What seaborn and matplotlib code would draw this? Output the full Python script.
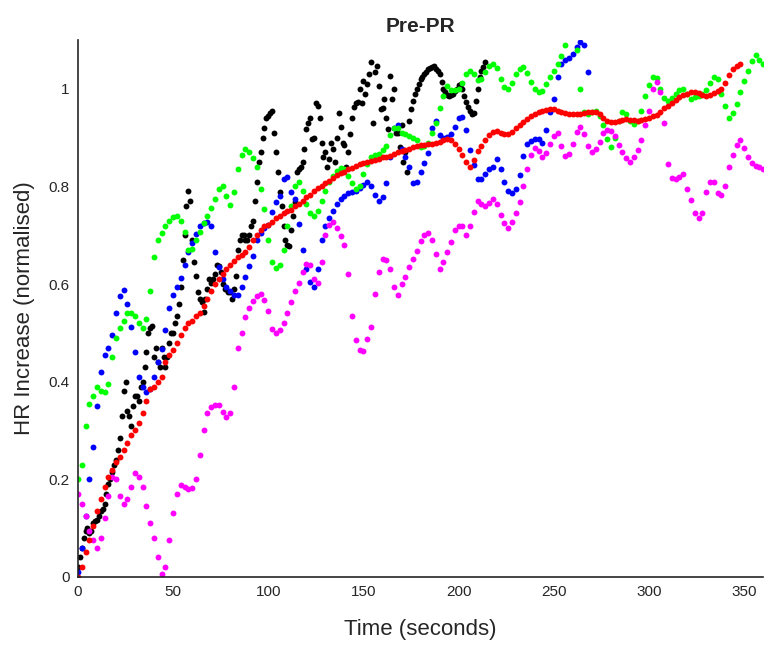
import numpy as np
import pandas as pd
import matplotlib
matplotlib.use("Agg")
import matplotlib.pyplot as plt
import seaborn as sns

# sample spacing (seconds) used for every trace
step = 2

red_vals = [0.0, 0.02, 0.05, 0.076, 0.105, 0.135, 0.16, 0.185, 0.205, 0.22,
            0.235, 0.246, 0.26, 0.275, 0.29, 0.30, 0.315, 0.335, 0.36, 0.385,
            0.39, 0.40, 0.41, 0.44, 0.455, 0.465, 0.48, 0.495, 0.51, 0.52,
            0.525, 0.535, 0.54, 0.555, 0.57, 0.585, 0.60, 0.61, 0.62, 0.63,
            0.64, 0.648, 0.655, 0.66, 0.665, 0.675, 0.69, 0.70, 0.71, 0.718,
            0.722, 0.728, 0.735, 0.74, 0.745, 0.75, 0.752, 0.76, 0.765, 0.77,
            0.778, 0.782, 0.79, 0.797, 0.80, 0.808, 0.812, 0.818, 0.823, 0.828,
            0.83, 0.835, 0.838, 0.842, 0.845, 0.848, 0.85, 0.852, 0.855, 0.857,
            0.86, 0.86, 0.863, 0.866, 0.87, 0.872, 0.875, 0.877, 0.88, 0.882,
            0.885, 0.885, 0.886, 0.888, 0.89, 0.892, 0.895, 0.897, 0.895, 0.888,
            0.877, 0.864, 0.85, 0.84, 0.855, 0.872, 0.883, 0.895, 0.905, 0.912,
            0.914, 0.91, 0.907, 0.907, 0.912, 0.92, 0.926, 0.932, 0.938, 0.944,
            0.949, 0.952, 0.955, 0.957, 0.959, 0.958, 0.955, 0.952, 0.95, 0.949,
            0.948, 0.948, 0.949, 0.95, 0.952, 0.953, 0.953, 0.948, 0.94, 0.934,
            0.932, 0.933, 0.935, 0.937, 0.938, 0.937, 0.936, 0.935, 0.936, 0.938,
            0.941, 0.944, 0.947, 0.953, 0.96, 0.965, 0.971, 0.978, 0.984, 0.988,
            0.99, 0.993, 0.994, 0.991, 0.988, 0.986, 0.988, 0.992, 0.996, 1.0,
            1.012, 1.028, 1.04, 1.047, 1.05]

green_vals = [0.2, 0.23, 0.31, 0.355, 0.37, 0.39, 0.38, 0.378, 0.395, 0.45,
              0.49, 0.51, 0.525, 0.54, 0.54, 0.534, 0.52, 0.51, 0.528, 0.585,
              0.655, 0.69, 0.705, 0.72, 0.73, 0.738, 0.74, 0.73, 0.706, 0.67,
              0.672, 0.69, 0.706, 0.725, 0.74, 0.755, 0.775, 0.795, 0.80, 0.78,
              0.762, 0.788, 0.836, 0.865, 0.877, 0.87, 0.858, 0.84, 0.795, 0.753,
              0.69, 0.645, 0.632, 0.64, 0.67, 0.72, 0.76, 0.80, 0.81, 0.79,
              0.765, 0.745, 0.74, 0.75, 0.77, 0.79, 0.81, 0.822, 0.832, 0.838,
              0.835, 0.822, 0.808, 0.795, 0.80, 0.825, 0.845, 0.86, 0.864, 0.866,
              0.874, 0.883, 0.905, 0.92, 0.92, 0.91, 0.907, 0.904, 0.90, 0.895,
              0.88, 0.882, 0.89, 0.91, 0.93, 0.96, 0.985, 1.006, 0.998, 0.997,
              1.0, 1.012, 1.03, 1.036, 1.03, 1.018, 1.02, 1.035, 1.047, 1.05,
              1.042, 1.02, 1.004, 1.0, 1.012, 1.03, 1.04, 1.045, 1.033, 1.014,
              1.0, 0.994, 0.995, 1.01, 1.025, 1.037, 1.05, 1.068, 1.09, 1.115,
              1.125, 1.08, 1.0, 0.952, 0.948, 0.953, 0.955, 0.945, 0.925, 0.898,
              0.88, 0.90, 0.935, 0.953, 0.949, 0.935, 0.928, 0.935, 0.955, 0.986,
              1.008, 1.025, 1.022, 1.0, 0.982, 0.975, 0.982, 0.99, 0.998, 1.0,
              0.99, 0.98, 0.983, 0.986, 0.99, 0.998, 1.012, 1.024, 1.02, 0.99,
              0.965, 0.94, 0.95, 0.968, 0.994, 1.016, 1.037, 1.058, 1.07, 1.06,
              1.05]

blue_vals = [0.01, 0.06, 0.125, 0.2, 0.267, 0.35, 0.42, 0.455, 0.468, 0.495,
             0.54, 0.575, 0.587, 0.56, 0.513, 0.46, 0.41, 0.39, 0.378, 0.385,
             0.41, 0.44, 0.466, 0.505, 0.55, 0.578, 0.595, 0.612, 0.64, 0.665,
             0.685, 0.703, 0.72, 0.726, 0.727, 0.72, 0.665, 0.635, 0.61, 0.594,
             0.585, 0.578, 0.578, 0.594, 0.615, 0.637, 0.657, 0.69, 0.705, 0.714,
             0.722, 0.747, 0.768, 0.78, 0.815, 0.82, 0.788, 0.775, 0.723, 0.67,
             0.63, 0.605, 0.595, 0.63, 0.69, 0.718, 0.735, 0.75, 0.765, 0.774,
             0.78, 0.787, 0.789, 0.79, 0.797, 0.803, 0.81, 0.80, 0.782, 0.77,
             0.778, 0.808, 0.86, 0.92, 0.925, 0.877, 0.86, 0.84, 0.808, 0.81,
             0.83, 0.848, 0.868, 0.92, 0.935, 0.905, 0.90, 0.902, 0.908, 0.922,
             0.94, 0.942, 0.915, 0.875, 0.843, 0.815, 0.815, 0.826, 0.836, 0.84,
             0.856, 0.836, 0.81, 0.79, 0.786, 0.795, 0.823, 0.862, 0.888, 0.893,
             0.898, 0.897, 0.89, 0.915, 0.953, 0.98, 1.025, 1.05, 1.06, 1.063,
             1.072, 1.085, 1.096, 1.09, 1.035]

magenta_vals = [0.17, 0.15, 0.125, 0.095, 0.076, 0.06, 0.08, 0.12, 0.165, 0.205,
                0.2, 0.165, 0.15, 0.16, 0.185, 0.213, 0.205, 0.185, 0.145, 0.11,
                0.08, 0.04, 0.006, 0.02, 0.076, 0.13, 0.17, 0.188, 0.185, 0.18,
                0.182, 0.2, 0.25, 0.30, 0.335, 0.348, 0.352, 0.353, 0.338, 0.328,
                0.335, 0.39, 0.47, 0.50, 0.532, 0.55, 0.565, 0.575, 0.58, 0.568,
                0.545, 0.507, 0.50, 0.505, 0.52, 0.54, 0.563, 0.585, 0.603, 0.624,
                0.642, 0.64, 0.61, 0.603, 0.645, 0.70, 0.722, 0.728, 0.714, 0.698,
                0.68, 0.62, 0.534, 0.485, 0.465, 0.462, 0.487, 0.513, 0.58, 0.625,
                0.652, 0.65, 0.63, 0.595, 0.578, 0.60, 0.615, 0.635, 0.652, 0.668,
                0.688, 0.70, 0.705, 0.69, 0.662, 0.63, 0.645, 0.665, 0.686, 0.71,
                0.718, 0.718, 0.70, 0.72, 0.748, 0.77, 0.765, 0.76, 0.766, 0.775,
                0.765, 0.742, 0.725, 0.715, 0.727, 0.745, 0.768, 0.80, 0.835, 0.865,
                0.878, 0.873, 0.86, 0.868, 0.887, 0.904, 0.91, 0.883, 0.862, 0.866,
                0.888, 0.912, 0.922, 0.908, 0.883, 0.87, 0.877, 0.892, 0.91, 0.915,
                0.914, 0.903, 0.885, 0.87, 0.858, 0.85, 0.86, 0.875, 0.895, 0.925,
                0.955, 1.0, 1.014, 0.994, 0.93, 0.845, 0.818, 0.815, 0.82, 0.825,
                0.795, 0.772, 0.745, 0.735, 0.745, 0.788, 0.81, 0.81, 0.787, 0.782,
                0.80, 0.84, 0.865, 0.885, 0.895, 0.878, 0.86, 0.848, 0.842, 0.84,
                0.836]

# black trace is noisier, so it is read at every second (even + odd seconds)
black_even_vals = [0.02, 0.06, 0.095, 0.09, 0.11, 0.117, 0.135, 0.15, 0.19, 0.215,
                   0.24, 0.285, 0.38, 0.34, 0.31, 0.37, 0.36, 0.40, 0.46, 0.51,
                   0.45, 0.44, 0.47, 0.43, 0.48, 0.50, 0.535, 0.595, 0.70, 0.79,
                   0.69, 0.616, 0.57, 0.542, 0.59, 0.603, 0.62, 0.637, 0.60, 0.59,
                   0.583, 0.59, 0.67, 0.70, 0.69, 0.70, 0.73, 0.81, 0.87, 0.92,
                   0.945, 0.955, 0.87, 0.788, 0.72, 0.68, 0.71, 0.768, 0.835, 0.85,
                   0.918, 0.94, 0.90, 0.965, 0.89, 0.87, 0.856, 0.877, 0.90, 0.922,
                   0.885, 0.87, 0.94, 0.97, 1.0, 1.016, 1.01, 1.055, 1.035, 1.006,
                   0.96, 0.94, 1.027, 1.0, 0.91, 0.925, 0.87, 0.934, 0.975, 1.0,
                   1.02, 1.03, 1.04, 1.045, 1.04, 1.03, 1.0, 0.988, 0.988, 0.995,
                   1.008, 1.0, 0.973, 0.955, 0.95, 1.0, 1.037, 1.055]
black_odd_vals = [0.04, 0.08, 0.10, 0.095, 0.115, 0.125, 0.14, 0.17, 0.20, 0.23,
                  0.26, 0.33, 0.40, 0.33, 0.35, 0.37, 0.39, 0.43, 0.50, 0.515,
                  0.47, 0.43, 0.45, 0.45, 0.50, 0.52, 0.56, 0.65, 0.76, 0.77,
                  0.645, 0.583, 0.563, 0.57, 0.61, 0.61, 0.64, 0.624, 0.59, 0.583,
                  0.569, 0.616, 0.69, 0.70, 0.69, 0.72, 0.77, 0.85, 0.90, 0.94,
                  0.95, 0.91, 0.83, 0.76, 0.69, 0.678, 0.74, 0.83, 0.84, 0.877,
                  0.93, 0.897, 0.97, 0.94, 0.86, 0.84, 0.89, 0.85, 0.95, 0.89,
                  0.84, 0.908, 0.963, 0.973, 0.97, 0.99, 1.03, 0.93, 1.047, 0.959,
                  0.98, 0.918, 0.98, 0.91, 0.88, 0.85, 0.83, 0.959, 0.99, 1.01,
                  1.025, 1.035, 1.042, 1.047, 1.037, 1.014, 0.994, 0.986, 0.99, 1.0,
                  1.01, 0.985, 0.962, 0.949, 0.975, 1.025, 1.045]

x_ticks = [0, 50, 100, 150, 200, 250, 300, 350]
y_ticks = [0, 0.2, 0.4, 0.6, 0.8, 1.0]
y_tick_labels = ["0", "0.2", "0.4", "0.6", "0.8", "1"]


def make_frame(vals, offset=0):
    return pd.DataFrame({"t": np.arange(len(vals)) * step + offset, "v": vals})


black_df = pd.concat([make_frame(black_even_vals), make_frame(black_odd_vals, 1)])

series = [(black_df, "k"),
          (make_frame(blue_vals), "#0000ff"),
          (make_frame(green_vals), "#00ff00"),
          (make_frame(magenta_vals), "#ff00ff"),
          (make_frame(red_vals), "#ff0000")]

sns.set_style("white")
plt.rcParams["font.family"] = ["Liberation Sans", "DejaVu Sans"]

fig = plt.figure(figsize=(7.64, 6.46), dpi=100)
ax = fig.add_axes([0.102, 0.107, 0.897, 0.831])

for df, col in series:
    sns.scatterplot(data=df, x="t", y="v", color=col, s=18, linewidth=0,
                    ax=ax, legend=False)

ax.set_xlim(0, 360)
ax.set_ylim(0, 1.1)
ax.set_xticks(x_ticks)
ax.set_yticks(y_ticks)
ax.set_yticklabels(y_tick_labels)
ax.tick_params(direction="in", length=5, width=1, labelsize=11,
               colors="#262626", pad=6)
for side in ["top", "right"]:
    ax.spines[side].set_visible(False)
for side in ["left", "bottom"]:
    ax.spines[side].set_color("#262626")
    ax.spines[side].set_linewidth(1.2)

ax.set_xlabel("Time (seconds)", fontsize=16, color="#262626", labelpad=14)
ax.set_ylabel("HR Increase (normalised)", fontsize=16, color="#262626",
              labelpad=10)
ax.set_title("Pre-PR", fontsize=15, fontweight="bold", pad=6)

fig.savefig("out.png", dpi=100)
